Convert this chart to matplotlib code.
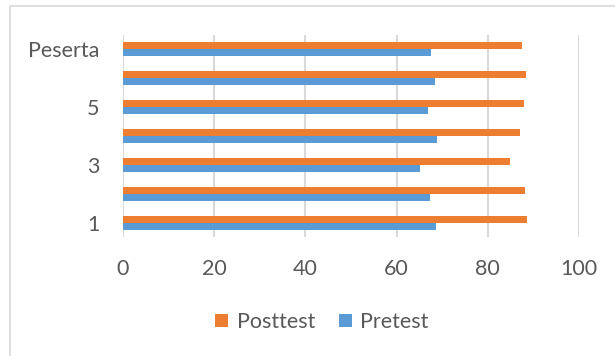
import numpy as np
import matplotlib
matplotlib.use("Agg")
import matplotlib.pyplot as plt
from matplotlib.patches import Rectangle

# data (bottom row first)
categories = ['1', '2', '3', '4', '5', '6', 'Peserta']
pretest = [68.6, 67.3, 65.2, 68.9, 66.8, 68.4, 67.5]
posttest = [88.5, 88.1, 84.9, 87.1, 87.9, 88.4, 87.5]
xticks = [0, 20, 40, 60, 80, 100]

plt.rcParams['font.family'] = ['Lato', 'DejaVu Sans']
grey = '#595959'

fig = plt.figure(figsize=(6.15, 3.56), dpi=100)
# light border of the chart frame (top and left only visible)
fig.patches.append(Rectangle((9.5 / 615, -0.1), 2.0, (356 - 6) / 356 + 0.1,
                             transform=fig.transFigure, fill=False,
                             edgecolor='#d9d9d9', linewidth=1.2))

ax = fig.add_axes([123 / 615, 1 - 237 / 356, 456 / 615, 202 / 356])

y = np.arange(len(categories))
h = 0.245
ax.barh(y - h / 2, pretest, height=h, color='#5B9BD5', label='Pretest', zorder=3)
ax.barh(y + h / 2, posttest, height=h, color='#ED7D31', label='Posttest', zorder=3)

ax.set_xlim(0, 100)
ax.set_ylim(-0.5, len(categories) - 0.5)
ax.set_xticks(xticks)
ax.set_xticklabels([str(t) for t in xticks])
ax.set_yticks(y[::2])
ax.set_yticklabels(categories[::2])
ax.grid(axis='x', color='#d9d9d9', linewidth=1.5, zorder=0)
for s in ax.spines.values():
    s.set_visible(False)
ax.tick_params(axis='both', length=0, labelsize=15.5, labelcolor=grey)
ax.tick_params(axis='x', pad=16)
ax.tick_params(axis='y', pad=17)

handles, labels = ax.get_legend_handles_labels()
fig.legend(handles[::-1], labels[::-1], loc='center', bbox_to_anchor=(322 / 615, 1 - 322 / 356),
           ncol=2, frameon=False, fontsize=15.5, labelcolor=grey,
           handlelength=0.6, handleheight=0.6, handletextpad=0.4, columnspacing=1.1)

fig.savefig('out.png', dpi=100)
